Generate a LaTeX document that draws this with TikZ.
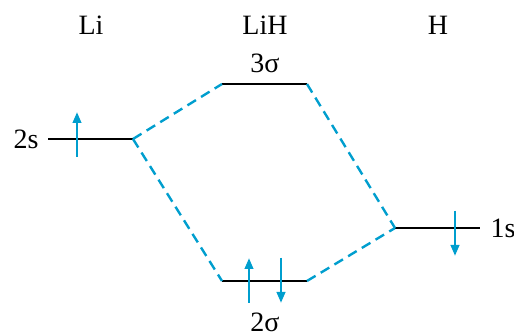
\documentclass[tikz,border=0pt]{standalone}
\usepackage{fontspec}
\setmainfont{Liberation Serif}
\usetikzlibrary{arrows.meta,positioning}
\definecolor{spincyan}{RGB}{0,158,206}

\begin{document}
\begin{tikzpicture}[
    x=0.5pt, y=-0.5pt,
    font=\fontsize{14}{16}\selectfont,
    level/.style={line width=1.1pt, draw=black},
    corr/.style={dash pattern=on 5pt off 3pt, line width=1.2pt, draw=spincyan},
    spin/.style={-{Triangle[length=5.5pt,width=4.2pt]}, line width=1.3pt, draw=spincyan, fill=spincyan},
    lbl/.style={inner sep=1pt}
]
\useasboundingbox (0,0) rectangle (514,335);

% energy levels
\coordinate (liA) at (48,139);  \coordinate (liB) at (133,139);
\coordinate (hiA) at (222,84);  \coordinate (hiB) at (307,84);
\coordinate (loA) at (222,281); \coordinate (loB) at (307,281);
\coordinate (hA) at (395,228);  \coordinate (hB) at (480,228);

\draw[level] (liA) -- (liB);
\draw[level] (hiA) -- (hiB);
\draw[level] (loA) -- (loB);
\draw[level] (hA) -- (hB);

% correlation lines
\draw[corr] (liB) -- (hiA);
\draw[corr] (liB) -- (loA);
\draw[corr] (hiB) -- (hA);
\draw[corr] (loB) -- (hA);

% electrons
\draw[spin] (77,157) -- (77,112);
\draw[spin] (249,303) -- (249,258);
\draw[spin] (281,258) -- (281,303);
\draw[spin] (455,211) -- (455,256);

% labels
\node[lbl] (li) at (91,25) {Li};
\node[lbl] (lih) at (265,25) {LiH};
\node[lbl] (h) at (438,25) {H};
\node[lbl] (s2) at (26,139) {2s};
\node[lbl] (s1) at (503,228) {1s};
\node[lbl] (sg3) at (265,63) {3σ};
\node[lbl] (sg2) at (265,322) {2σ};
\end{tikzpicture}
\end{document}
